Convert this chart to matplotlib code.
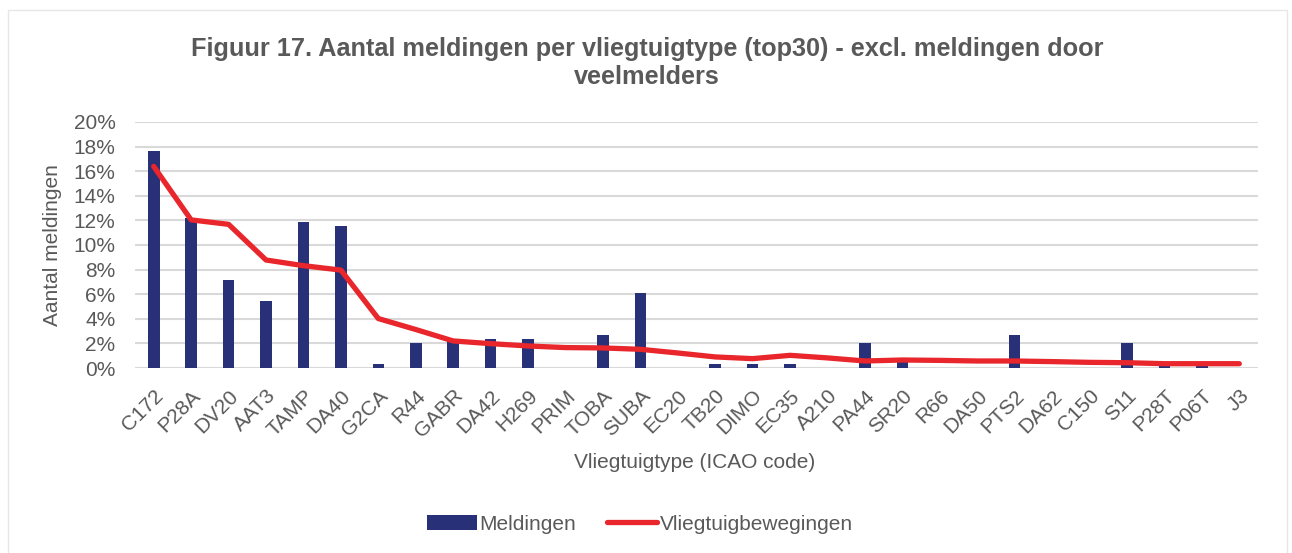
import matplotlib
matplotlib.use("Agg")
import matplotlib.pyplot as plt
from matplotlib.patches import Rectangle
from matplotlib.ticker import FuncFormatter

plt.rcParams['font.family'] = ['Liberation Sans', 'DejaVu Sans']

categories = ["C172", "P28A", "DV20", "AAT3", "TAMP", "DA40", "G2CA", "R44", "GABR", "DA42",
              "H269", "PRIM", "TOBA", "SUBA", "EC20", "TB20", "DIMO", "EC35", "A210", "PA44",
              "SR20", "R66", "DA50", "PTS2", "DA62", "C150", "S11", "P28T", "P06T", "J3"]
meldingen = [17.66, 12.2, 7.12, 5.41, 11.85, 11.52, 0.3, 2.01, 2.3, 2.34,
             2.34, 0.0, 2.66, 6.09, 0.0, 0.3, 0.3, 0.3, 0.0, 2.01,
             0.5, 0.0, 0.0, 2.66, 0.0, 0.0, 2.01, 0.3, 0.3, 0.0]
bewegingen = [16.39, 12.04, 11.68, 8.78, 8.32, 7.96, 4.02, 3.13, 2.2, 1.98,
              1.79, 1.66, 1.63, 1.52, 1.22, 0.9, 0.76, 1.03, 0.82, 0.57,
              0.65, 0.62, 0.57, 0.57, 0.52, 0.46, 0.43, 0.35, 0.35, 0.35]

TXT = "#595959"
BAR = "#283178"
LINE = "#E8262B"
FS = 15

fig = plt.figure(figsize=(12.92, 5.53), dpi=100)
fig.patches.append(Rectangle((8/1292, -0.05), (1287-8)/1292, 1 - 10/553 + 0.05,
                             transform=fig.transFigure, fill=False,
                             edgecolor="#E6E6E6", linewidth=1.0))
ax = fig.add_axes([135/1292, 1-368/553, (1258-135)/1292, (368-122)/553])

x = list(range(len(categories)))
bars = ax.bar(x, [v/100 for v in meldingen], width=0.31, color=BAR, label="Meldingen", zorder=2)
line, = ax.plot(x, [v/100 for v in bewegingen], color=LINE, linewidth=3.8, solid_capstyle='round',
                label="Vliegtuigbewegingen", zorder=3)

ax.set_xlim(-0.5, len(categories)-0.5)
ax.set_ylim(0, 0.2)
ax.set_yticks([i/100 for i in range(0, 21, 2)])
ax.yaxis.set_major_formatter(FuncFormatter(lambda v, p: f"{round(v*100)}%"))
ax.grid(axis='y', color="#D9D9D9", linewidth=1.5, zorder=0)
ax.set_axisbelow(True)
for s in ax.spines.values():
    s.set_visible(False)
ax.tick_params(axis='both', length=0, labelsize=FS, labelcolor=TXT)
ax.tick_params(axis='y', pad=14)
ax.set_xticks(x)
ax.set_xticklabels(categories, rotation=45, ha='right', va='top', rotation_mode='anchor')
ax.tick_params(axis='x', pad=13)

fig.text(53/1292, 1-245/553, "Aantal meldingen", fontsize=FS, color=TXT,
         ha='center', va='center', rotation=90)
fig.text(695/1292, 1-463/553, "Vliegtuigtype (ICAO code)", fontsize=FS, color=TXT,
         ha='center', va='center')
fig.text(647/1292, 1-63/553,
         "Figuur 17. Aantal meldingen per vliegtuigtype (top30) - excl. meldingen door\nveelmelders",
         fontsize=18.2, fontweight='bold', color=TXT, ha='center', va='center', linespacing=1.2)

leg = fig.legend([bars, line], ["Meldingen", "Vliegtuigbewegingen"],
                 loc='center', bbox_to_anchor=(640/1292, 1-524/553), ncol=2, frameon=False,
                 fontsize=FS, handlelength=2.4, handletextpad=0.1, columnspacing=1.5)
for t in leg.get_texts():
    t.set_color(TXT)

fig.savefig("out.png", dpi=100)
